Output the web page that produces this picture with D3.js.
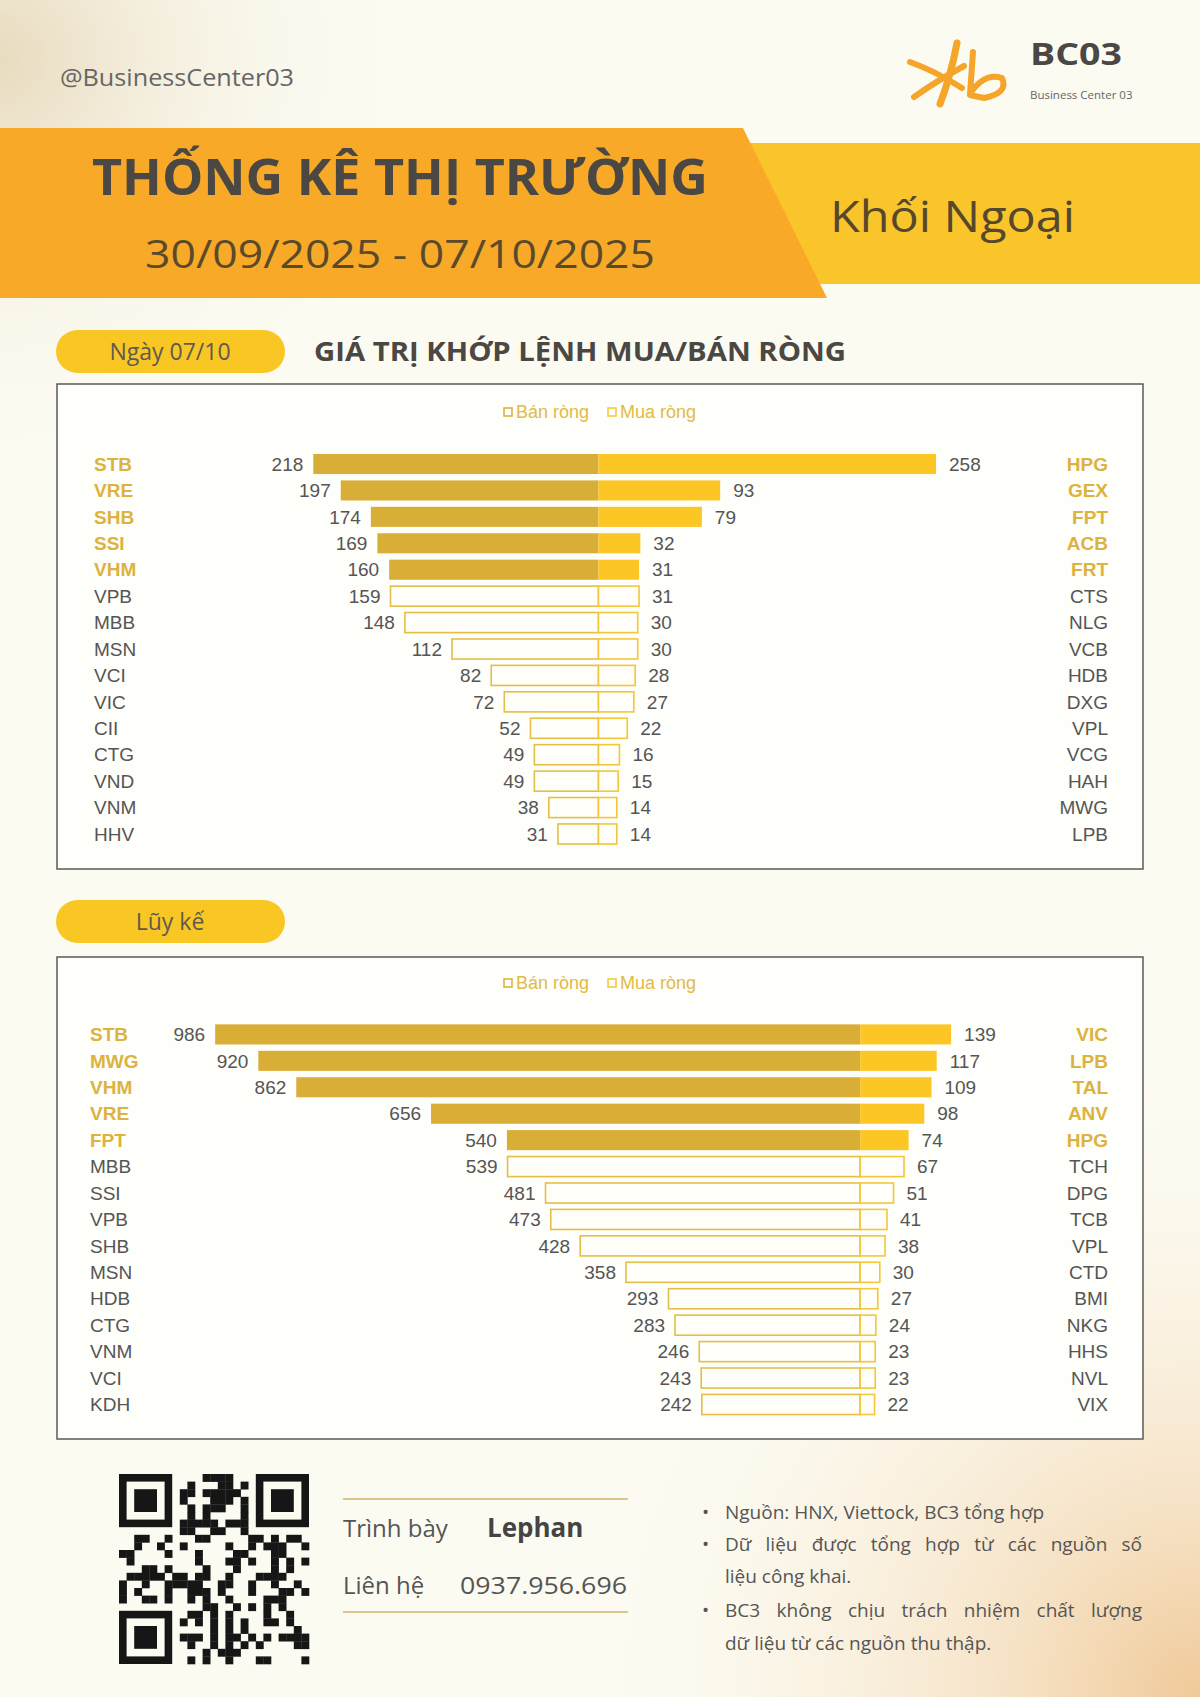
<!DOCTYPE html>
<html>
<head>
<meta charset="utf-8">
<script src="https://cdn.jsdelivr.net/npm/d3@7"></script>
<style>
body { margin: 0; background: #fcfbf2; }
svg { display: block; }
</style>
</head>
<body>
<div id="page"></div>
<script>
// ---- data ----
var dayLeftTickers = ["STB", "VRE", "SHB", "SSI", "VHM", "VPB", "MBB", "MSN", "VCI", "VIC", "CII", "CTG", "VND", "VNM", "HHV"];
var dayLeftValues = [218, 197, 174, 169, 160, 159, 148, 112, 82, 72, 52, 49, 49, 38, 31];
var dayRightTickers = ["HPG", "GEX", "FPT", "ACB", "FRT", "CTS", "NLG", "VCB", "HDB", "DXG", "VPL", "VCG", "HAH", "MWG", "LPB"];
var dayRightValues = [258, 93, 79, 32, 31, 31, 30, 30, 28, 27, 22, 16, 15, 14, 14];

var cumLeftTickers = ["STB", "MWG", "VHM", "VRE", "FPT", "MBB", "SSI", "VPB", "SHB", "MSN", "HDB", "CTG", "VNM", "VCI", "KDH"];
var cumLeftValues = [986, 920, 862, 656, 540, 539, 481, 473, 428, 358, 293, 283, 246, 243, 242];
var cumRightTickers = ["VIC", "LPB", "TAL", "ANV", "HPG", "TCH", "DPG", "TCB", "VPL", "CTD", "BMI", "NKG", "HHS", "NVL", "VIX"];
var cumRightValues = [139, 117, 109, 98, 74, 67, 51, 41, 38, 30, 27, 24, 23, 23, 22];

var legendLabels = ["Bán ròng", "Mua ròng"];
var highlightCount = 5;

var W = 1200, H = 1697;
var svg = d3.select("#page").append("svg")
	.attr("width", W)
	.attr("height", H);
var defs = svg.append("defs");

// background with soft corner tints
svg.append("rect").attr("width", W).attr("height", H).attr("fill", "#fcfbf2");

var tl = defs.append("radialGradient").attr("id", "tl")
	.attr("cx", 0).attr("cy", 60).attr("r", 420).attr("gradientUnits", "userSpaceOnUse");
tl.append("stop").attr("offset", 0).attr("stop-color", "#e6d7b8").attr("stop-opacity", 0.9);
tl.append("stop").attr("offset", 1).attr("stop-color", "#fcfbf2").attr("stop-opacity", 0);
svg.append("rect").attr("width", W).attr("height", 500).attr("fill", "url(#tl)");

var br = defs.append("radialGradient").attr("id", "br")
	.attr("cx", 1200).attr("cy", 1697).attr("r", 650).attr("gradientUnits", "userSpaceOnUse");
br.append("stop").attr("offset", 0).attr("stop-color", "#f0c998").attr("stop-opacity", 1);
br.append("stop").attr("offset", 1).attr("stop-color", "#fcfbf2").attr("stop-opacity", 0);
svg.append("rect").attr("y", 1000).attr("width", W).attr("height", 697).attr("fill", "url(#br)");

// text squeezed/stretched to a measured width
function fitText(sel, len) {
	return sel.attr("textLength", len).attr("lengthAdjust", "spacingAndGlyphs");
}

// ---- header ----
fitText(svg.append("text")
	.attr("x", 60).attr("y", 86)
	.attr("font-family", "Open Sans").attr("font-size", 23)
	.attr("fill", "#666")
	.text("@BusinessCenter03"), 234);

// logo mark
var logo = svg.append("g")
	.attr("fill", "none")
	.attr("stroke", "#f4a52a")
	.attr("stroke-linecap", "round")
	.attr("stroke-linejoin", "round");
logo.append("path").attr("d", "M957,43 Q951,75 940,104").attr("stroke-width", 7);
logo.append("path").attr("d", "M910,62 Q935,71 962,88").attr("stroke-width", 6);
logo.append("path").attr("d", "M914,97 Q938,80 964,66").attr("stroke-width", 6);
logo.append("path").attr("d", "M973,52 L970,94 Q984,72 1002,78 Q1009,93 984,98 L970,95").attr("stroke-width", 6);

fitText(svg.append("text")
	.attr("x", 1030).attr("y", 65)
	.attr("font-family", "Open Sans").attr("font-weight", 700).attr("font-size", 30)
	.attr("fill", "#4a4744")
	.text("BC03"), 92);

var stripe = defs.append("linearGradient").attr("id", "stripe");
stripe.append("stop").attr("offset", 0).attr("stop-color", "#e4bf6a");
stripe.append("stop").attr("offset", 1).attr("stop-color", "#f3e3bd").attr("stop-opacity", 0.3);
[0, 1, 2, 3].forEach(function(i) {
	svg.append("line")
		.attr("x1", 1030 + i * 6).attr("x2", 1145 - i * 4)
		.attr("y1", 73 + i * 3).attr("y2", 73 + i * 3)
		.attr("stroke", "url(#stripe)").attr("stroke-width", 1.6);
});

svg.append("text")
	.attr("x", 1030).attr("y", 99)
	.attr("font-family", "Open Sans").attr("font-size", 11.5)
	.attr("fill", "#666")
	.text("Business Center 03");

// banners
svg.append("rect")
	.attr("x", 700).attr("y", 143).attr("width", 500).attr("height", 141)
	.attr("fill", "#f9c52b");
svg.append("path")
	.attr("d", "M0,128 L743,128 L827,298 L0,298 Z")
	.attr("fill", "#f8a928");

fitText(svg.append("text")
	.attr("x", 92).attr("y", 195)
	.attr("font-family", "Open Sans").attr("font-weight", 700).attr("font-size", 51)
	.attr("fill", "#4b4742")
	.text("THỐNG KÊ THỊ TRƯỜNG"), 616);

fitText(svg.append("text")
	.attr("x", 145).attr("y", 268)
	.attr("font-family", "Open Sans").attr("font-size", 39)
	.attr("fill", "#5a4a2c")
	.text("30/09/2025 - 07/10/2025"), 510);

fitText(svg.append("text")
	.attr("x", 830).attr("y", 232)
	.attr("font-family", "Open Sans").attr("font-size", 43)
	.attr("fill", "#55482c")
	.text("Khối Ngoại"), 245);

// section pills
function pill(y, label) {
	svg.append("rect")
		.attr("x", 56).attr("y", y).attr("width", 229).attr("height", 43)
		.attr("rx", 21.5)
		.attr("fill", "#f9c724");
	svg.append("text")
		.attr("x", 170).attr("y", y + 30)
		.attr("text-anchor", "middle")
		.attr("font-family", "Open Sans").attr("font-size", 23)
		.attr("fill", "#5e5a52")
		.text(label);
}
pill(330, "Ngày 07/10");
pill(900, "Lũy kế");

fitText(svg.append("text")
	.attr("x", 314).attr("y", 361)
	.attr("font-family", "Open Sans").attr("font-weight", 700).attr("font-size", 27)
	.attr("fill", "#4b4742")
	.text("GIÁ TRỊ KHỚP LỆNH MUA/BÁN RÒNG"), 532);

// ---- diverging bar charts ----
function drawChart(cfg) {
	var g = svg.append("g");

	g.append("rect")
		.attr("x", 57).attr("y", cfg.boxTop)
		.attr("width", 1086).attr("height", cfg.boxHeight)
		.attr("fill", "#fefefa")
		.attr("stroke", "#5a5a5a").attr("stroke-width", 1.5);

	var x = d3.scaleLinear().domain(cfg.domain).range([206, 991]);
	var y = d3.scaleBand()
		.domain(d3.range(cfg.leftValues.length))
		.range(cfg.rows)
		.paddingInner(0.24)
		.paddingOuter(0.12);
	var bw = y.bandwidth();

	// legend
	var lg = g.append("g").attr("font-family", "Liberation Sans").attr("font-size", 18);
	var legendX = [504, 608];
	var legendStroke = ["#d9ae37", "#f5c735"];
	legendLabels.forEach(function(lab, i) {
		lg.append("rect")
			.attr("x", legendX[i]).attr("y", cfg.legendY - 4)
			.attr("width", 8).attr("height", 8)
			.attr("fill", "#fffef8")
			.attr("stroke", legendStroke[i]).attr("stroke-width", 1.5);
		lg.append("text")
			.attr("x", legendX[i] + 12).attr("y", cfg.legendY)
			.attr("dy", "0.35em")
			.attr("fill", "#e2bb45")
			.text(lab);
	});

	function isHi(i) { return i < highlightCount; }

	g.selectAll(".barL").data(cfg.leftValues).enter().append("rect")
		.attr("class", "barL")
		.attr("x", function(d) { return x(-d); })
		.attr("y", function(d, i) { return y(i); })
		.attr("width", function(d) { return x(0) - x(-d); })
		.attr("height", bw)
		.attr("fill", function(d, i) { return isHi(i) ? "#d9ae37" : "#fffef8"; })
		.attr("stroke", function(d, i) { return isHi(i) ? "none" : "#e3bf48"; })
		.attr("stroke-width", 1.6);

	g.selectAll(".barR").data(cfg.rightValues).enter().append("rect")
		.attr("class", "barR")
		.attr("x", x(0))
		.attr("y", function(d, i) { return y(i); })
		.attr("width", function(d) { return x(d) - x(0); })
		.attr("height", bw)
		.attr("fill", function(d, i) { return isHi(i) ? "#fcc624" : "#fffef8"; })
		.attr("stroke", function(d, i) { return isHi(i) ? "none" : "#f3c73a"; })
		.attr("stroke-width", 1.6);

	var txt = g.append("g").attr("font-family", "Liberation Sans").attr("font-size", 19);

	txt.selectAll(".valL").data(cfg.leftValues).enter().append("text")
		.attr("x", function(d) { return x(-d) - 10; })
		.attr("y", function(d, i) { return y(i) + bw / 2; })
		.attr("dy", "0.35em")
		.attr("text-anchor", "end")
		.attr("fill", "#555")
		.text(function(d) { return d; });

	txt.selectAll(".valR").data(cfg.rightValues).enter().append("text")
		.attr("x", function(d) { return x(d) + 13; })
		.attr("y", function(d, i) { return y(i) + bw / 2; })
		.attr("dy", "0.35em")
		.attr("fill", "#555")
		.text(function(d) { return d; });

	txt.selectAll(".tickL").data(cfg.leftTickers).enter().append("text")
		.attr("x", cfg.tickerX)
		.attr("y", function(d, i) { return y(i) + bw / 2; })
		.attr("dy", "0.35em")
		.attr("font-weight", function(d, i) { return isHi(i) ? 700 : 400; })
		.attr("fill", function(d, i) { return isHi(i) ? "#dcb33f" : "#555"; })
		.text(function(d) { return d; });

	txt.selectAll(".tickR").data(cfg.rightTickers).enter().append("text")
		.attr("x", 1108)
		.attr("y", function(d, i) { return y(i) + bw / 2; })
		.attr("dy", "0.35em")
		.attr("text-anchor", "end")
		.attr("font-weight", function(d, i) { return isHi(i) ? 700 : 400; })
		.attr("fill", function(d, i) { return isHi(i) ? "#dcb33f" : "#555"; })
		.text(function(d) { return d; });
}

drawChart({
	boxTop: 384, boxHeight: 485,
	legendY: 412,
	rows: [450.8, 847.2],
	domain: [-300, 300],
	tickerX: 94,
	leftTickers: dayLeftTickers, leftValues: dayLeftValues,
	rightTickers: dayRightTickers, rightValues: dayRightValues
});

drawChart({
	boxTop: 957, boxHeight: 482,
	legendY: 983,
	rows: [1021.2, 1417.7],
	domain: [-1000, 200],
	tickerX: 90,
	leftTickers: cumLeftTickers, leftValues: cumLeftValues,
	rightTickers: cumRightTickers, rightValues: cumRightValues
});

// ---- footer ----
// QR-like block (decorative)
var qrN = 25, qrX = 119, qrY = 1474, qrSize = 190, cell = qrSize / qrN;
var qr = svg.append("g").attr("fill", "#161616");
function finder(cx, cy) {
	qr.append("rect").attr("x", qrX + cx * cell).attr("y", qrY + cy * cell).attr("width", 7 * cell).attr("height", 7 * cell);
	qr.append("rect").attr("x", qrX + (cx + 1) * cell).attr("y", qrY + (cy + 1) * cell).attr("width", 5 * cell).attr("height", 5 * cell).attr("fill", "#fcfbf2");
	qr.append("rect").attr("x", qrX + (cx + 2) * cell).attr("y", qrY + (cy + 2) * cell).attr("width", 3 * cell).attr("height", 3 * cell);
}
for (var r = 0; r < qrN; r++) {
	for (var c = 0; c < qrN; c++) {
		var inFinder = (r < 8 && c < 8) || (r < 8 && c > qrN - 9) || (r > qrN - 9 && c < 8);
		if (inFinder) continue;
		var h = ((r * 31 + c * 17 + r * c * 7) ^ (r * 13 + c * 5)) % 7;
		if (h < 3 || (r === 6 && c % 2 === 0) || (c === 6 && r % 2 === 0)) {
			qr.append("rect")
				.attr("x", qrX + c * cell).attr("y", qrY + r * cell)
				.attr("width", cell + 0.3).attr("height", cell + 0.3);
		}
	}
}
finder(0, 0);
finder(qrN - 7, 0);
finder(0, qrN - 7);

[1499, 1612].forEach(function(yy) {
	svg.append("line")
		.attr("x1", 343).attr("x2", 628)
		.attr("y1", yy).attr("y2", yy)
		.attr("stroke", "#dcc68c").attr("stroke-width", 2);
});

var ft = svg.append("g").attr("font-family", "Open Sans").attr("fill", "#555");
ft.append("text").attr("x", 343).attr("y", 1537).attr("font-size", 24).text("Trình bày");
ft.append("text").attr("x", 487).attr("y", 1537).attr("font-size", 26).attr("font-weight", 700).attr("fill", "#444").text("Lephan");
ft.append("text").attr("x", 343).attr("y", 1594).attr("font-size", 24).text("Liên hệ");
fitText(ft.append("text").attr("x", 460).attr("y", 1594).attr("font-size", 24).text("0937.956.696"), 167);

var notes = [
	{ y: 1519, bullet: true, text: "Nguồn: HNX, Viettock, BC3 tổng hợp", full: false },
	{ y: 1551, bullet: true, text: "Dữ liệu được tổng hợp từ các nguồn số", full: true },
	{ y: 1583, bullet: false, text: "liệu công khai.", full: false },
	{ y: 1617, bullet: true, text: "BC3 không chịu trách nhiệm chất lượng", full: true },
	{ y: 1650, bullet: false, text: "dữ liệu từ các nguồn thu thập.", full: false }
];
notes.forEach(function(n) {
	if (n.bullet) {
		ft.append("text").attr("x", 702).attr("y", n.y).attr("font-size", 19).text("•");
	}
	var t = ft.append("text").attr("x", 725).attr("y", n.y).attr("font-size", 19).text(n.text);
	if (n.full) {
		// justify the line by widening the gaps between words
		var gaps = n.text.split(" ").length - 1;
		var extra = (417 - t.node().getComputedTextLength()) / gaps;
		t.attr("word-spacing", extra);
	}
});
</script>
</body>
</html>
